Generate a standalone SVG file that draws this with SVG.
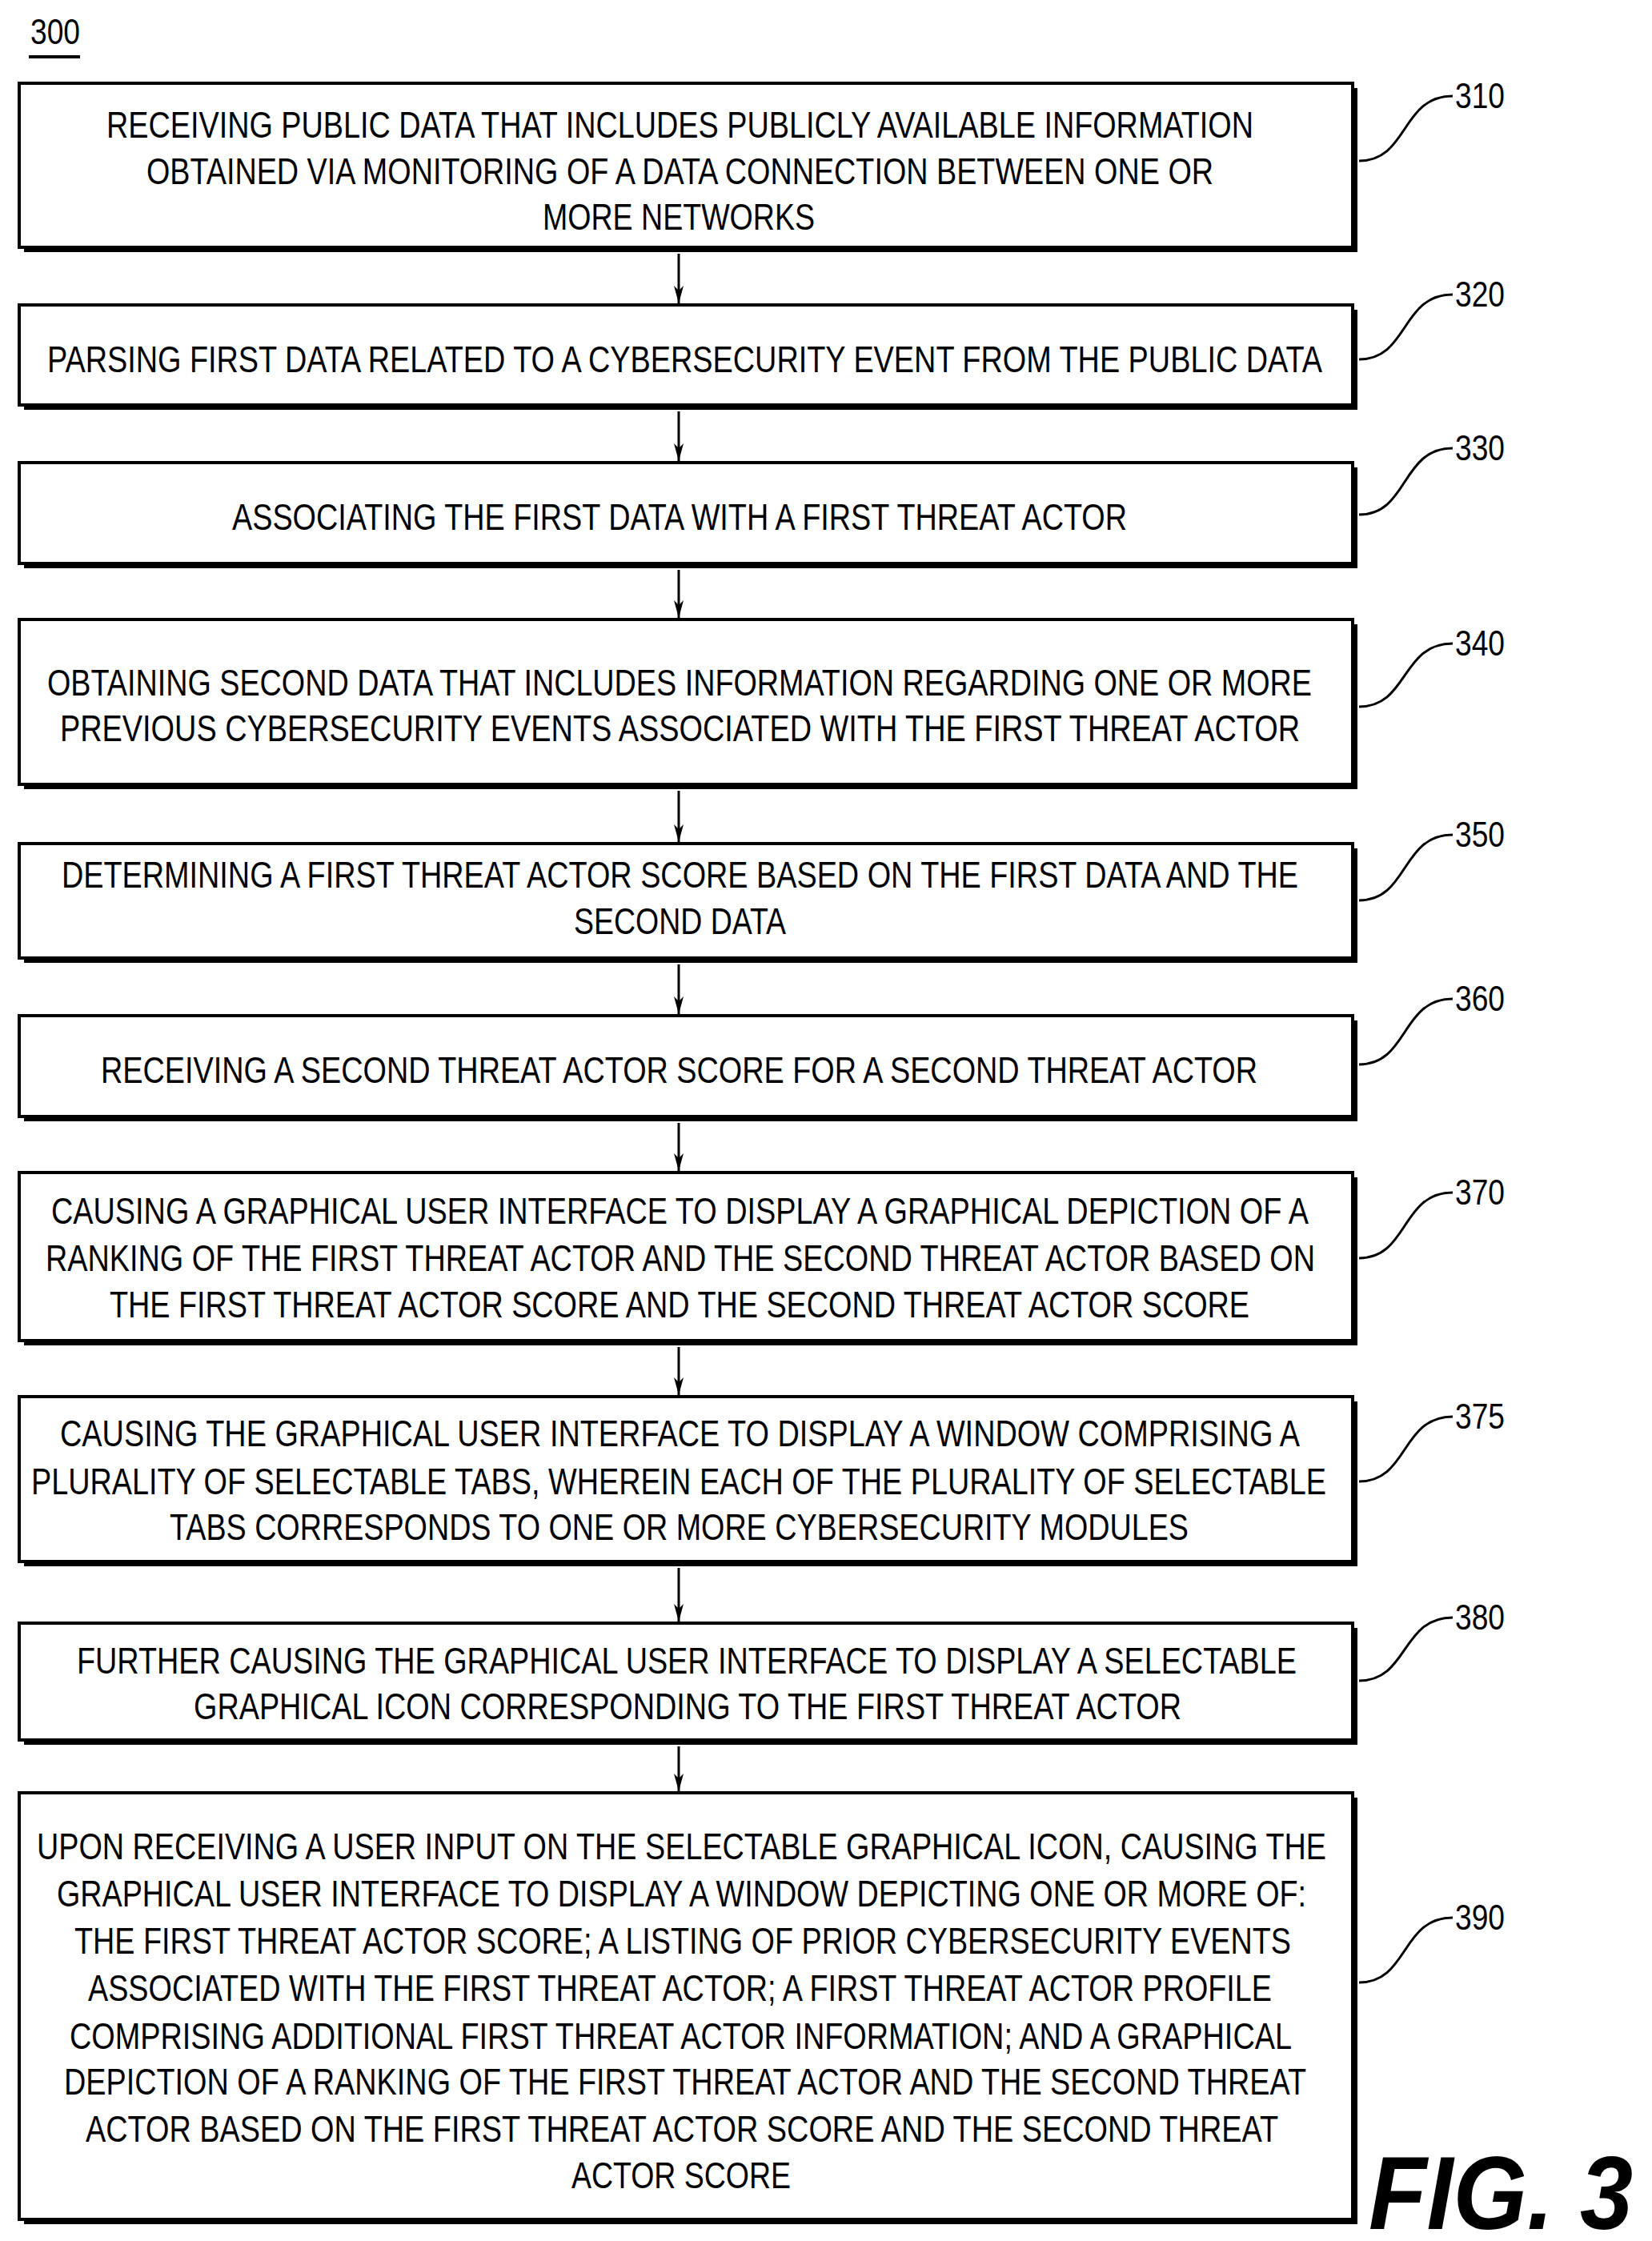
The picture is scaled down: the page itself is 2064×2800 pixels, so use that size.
<svg xmlns="http://www.w3.org/2000/svg" width="2064" height="2800" viewBox="0 0 2064 2800">
<style>
.b{fill:#fff;stroke:#000;stroke-width:4}
.s{fill:#000}
.t{font-family:"Liberation Sans",Arial,sans-serif;font-size:46px;fill:#000}
.l{font-family:"Liberation Sans",Arial,sans-serif;font-size:44px;fill:#000}
.c{fill:none;stroke:#000;stroke-width:3}
.a{stroke:#000;stroke-width:3;marker-end:url(#ah)}
</style>
<defs><marker id="ah" markerWidth="22" markerHeight="12" refX="22" refY="6" orient="auto" markerUnits="userSpaceOnUse" viewBox="0 0 22 12"><path d="M0,0 L22,6 L0,12 L6,6 Z" fill="#000"/></marker></defs>
<rect width="2064" height="2800" fill="#fff"/>
<g id="title"><text x="38" y="55" class="l" textLength="62" lengthAdjust="spacingAndGlyphs">300</text><line x1="36" y1="71" x2="100" y2="71" stroke="#000" stroke-width="4"/></g>
<g id="connectors">
<line class="a" x1="848" y1="317" x2="848" y2="379"/>
<line class="a" x1="848" y1="514" x2="848" y2="576"/>
<line class="a" x1="848" y1="712" x2="848" y2="772"/>
<line class="a" x1="848" y1="988" x2="848" y2="1052"/>
<line class="a" x1="848" y1="1205" x2="848" y2="1267"/>
<line class="a" x1="848" y1="1403" x2="848" y2="1463"/>
<line class="a" x1="848" y1="1683" x2="848" y2="1743"/>
<line class="a" x1="848" y1="1959" x2="848" y2="2026"/>
<line class="a" x1="848" y1="2182" x2="848" y2="2238"/>
<path class="c" d="M1698,201 C1760,201 1750,120 1815,120"/>
<path class="c" d="M1698,449 C1760,449 1750,368 1815,368"/>
<path class="c" d="M1698,643 C1760,643 1750,560 1815,560"/>
<path class="c" d="M1698,883 C1760,883 1750,804 1815,804"/>
<path class="c" d="M1698,1125 C1760,1125 1750,1043 1815,1043"/>
<path class="c" d="M1698,1330 C1760,1330 1750,1248 1815,1248"/>
<path class="c" d="M1698,1572 C1760,1572 1750,1490 1815,1490"/>
<path class="c" d="M1698,1851 C1760,1851 1750,1770 1815,1770"/>
<path class="c" d="M1698,2100 C1760,2100 1750,2021 1815,2021"/>
<path class="c" d="M1698,2477 C1760,2477 1750,2396 1815,2396"/>
</g>
<g id="n310"><rect class="s" x="30" y="110" width="1666" height="205"/><rect class="b" x="24" y="104" width="1666" height="205"/>
<text class="t" x="133" y="172" textLength="1433" lengthAdjust="spacingAndGlyphs">RECEIVING PUBLIC DATA THAT INCLUDES PUBLICLY AVAILABLE INFORMATION</text>
<text class="t" x="183" y="230" textLength="1333" lengthAdjust="spacingAndGlyphs">OBTAINED VIA MONITORING OF A DATA CONNECTION BETWEEN ONE OR</text>
<text class="t" x="678" y="287" textLength="340" lengthAdjust="spacingAndGlyphs">MORE NETWORKS</text>
<text class="l" x="1818" y="135" textLength="62" lengthAdjust="spacingAndGlyphs">310</text></g>
<g id="n320"><rect class="s" x="30" y="387" width="1666" height="125"/><rect class="b" x="24" y="381" width="1666" height="125"/>
<text class="t" x="59" y="465" textLength="1593" lengthAdjust="spacingAndGlyphs">PARSING FIRST DATA RELATED TO A CYBERSECURITY EVENT FROM THE PUBLIC DATA</text>
<text class="l" x="1818" y="383" textLength="62" lengthAdjust="spacingAndGlyphs">320</text></g>
<g id="n330"><rect class="s" x="30" y="584" width="1666" height="126"/><rect class="b" x="24" y="578" width="1666" height="126"/>
<text class="t" x="290" y="662" textLength="1118" lengthAdjust="spacingAndGlyphs">ASSOCIATING THE FIRST DATA WITH A FIRST THREAT ACTOR</text>
<text class="l" x="1818" y="575" textLength="62" lengthAdjust="spacingAndGlyphs">330</text></g>
<g id="n340"><rect class="s" x="30" y="780" width="1666" height="206"/><rect class="b" x="24" y="774" width="1666" height="206"/>
<text class="t" x="59" y="869" textLength="1580" lengthAdjust="spacingAndGlyphs">OBTAINING SECOND DATA THAT INCLUDES INFORMATION REGARDING ONE OR MORE</text>
<text class="t" x="75" y="926" textLength="1549" lengthAdjust="spacingAndGlyphs">PREVIOUS CYBERSECURITY EVENTS ASSOCIATED WITH THE FIRST THREAT ACTOR</text>
<text class="l" x="1818" y="819" textLength="62" lengthAdjust="spacingAndGlyphs">340</text></g>
<g id="n350"><rect class="s" x="30" y="1060" width="1666" height="143"/><rect class="b" x="24" y="1054" width="1666" height="143"/>
<text class="t" x="77" y="1109" textLength="1545" lengthAdjust="spacingAndGlyphs">DETERMINING A FIRST THREAT ACTOR SCORE BASED ON THE FIRST DATA AND THE</text>
<text class="t" x="717" y="1167" textLength="265" lengthAdjust="spacingAndGlyphs">SECOND DATA</text>
<text class="l" x="1818" y="1058" textLength="62" lengthAdjust="spacingAndGlyphs">350</text></g>
<g id="n360"><rect class="s" x="30" y="1275" width="1666" height="126"/><rect class="b" x="24" y="1269" width="1666" height="126"/>
<text class="t" x="126" y="1353" textLength="1445" lengthAdjust="spacingAndGlyphs">RECEIVING A SECOND THREAT ACTOR SCORE FOR A SECOND THREAT ACTOR</text>
<text class="l" x="1818" y="1263" textLength="62" lengthAdjust="spacingAndGlyphs">360</text></g>
<g id="n370"><rect class="s" x="30" y="1471" width="1666" height="210"/><rect class="b" x="24" y="1465" width="1666" height="210"/>
<text class="t" x="64" y="1529" textLength="1571" lengthAdjust="spacingAndGlyphs">CAUSING A GRAPHICAL USER INTERFACE TO DISPLAY A GRAPHICAL DEPICTION OF A</text>
<text class="t" x="57" y="1588" textLength="1586" lengthAdjust="spacingAndGlyphs">RANKING OF THE FIRST THREAT ACTOR AND THE SECOND THREAT ACTOR BASED ON</text>
<text class="t" x="137" y="1646" textLength="1424" lengthAdjust="spacingAndGlyphs">THE FIRST THREAT ACTOR SCORE AND THE SECOND THREAT ACTOR SCORE</text>
<text class="l" x="1818" y="1505" textLength="62" lengthAdjust="spacingAndGlyphs">370</text></g>
<g id="n375"><rect class="s" x="30" y="1751" width="1666" height="206"/><rect class="b" x="24" y="1745" width="1666" height="206"/>
<text class="t" x="75" y="1807" textLength="1549" lengthAdjust="spacingAndGlyphs">CAUSING THE GRAPHICAL USER INTERFACE TO DISPLAY A WINDOW COMPRISING A</text>
<text class="t" x="39" y="1867" textLength="1618" lengthAdjust="spacingAndGlyphs">PLURALITY OF SELECTABLE TABS, WHEREIN EACH OF THE PLURALITY OF SELECTABLE</text>
<text class="t" x="212" y="1924" textLength="1273" lengthAdjust="spacingAndGlyphs">TABS CORRESPONDS TO ONE OR MORE CYBERSECURITY MODULES</text>
<text class="l" x="1818" y="1785" textLength="62" lengthAdjust="spacingAndGlyphs">375</text></g>
<g id="n380"><rect class="s" x="30" y="2034" width="1666" height="146"/><rect class="b" x="24" y="2028" width="1666" height="146"/>
<text class="t" x="96" y="2091" textLength="1524" lengthAdjust="spacingAndGlyphs">FURTHER CAUSING THE GRAPHICAL USER INTERFACE TO DISPLAY A SELECTABLE</text>
<text class="t" x="242" y="2148" textLength="1234" lengthAdjust="spacingAndGlyphs">GRAPHICAL ICON CORRESPONDING TO THE FIRST THREAT ACTOR</text>
<text class="l" x="1818" y="2036" textLength="62" lengthAdjust="spacingAndGlyphs">380</text></g>
<g id="n390"><rect class="s" x="30" y="2246" width="1666" height="533"/><rect class="b" x="24" y="2240" width="1666" height="533"/>
<text class="t" x="46" y="2323" textLength="1611" lengthAdjust="spacingAndGlyphs">UPON RECEIVING A USER INPUT ON THE SELECTABLE GRAPHICAL ICON, CAUSING THE</text>
<text class="t" x="71" y="2382" textLength="1561" lengthAdjust="spacingAndGlyphs">GRAPHICAL USER INTERFACE TO DISPLAY A WINDOW DEPICTING ONE OR MORE OF:</text>
<text class="t" x="93" y="2441" textLength="1520" lengthAdjust="spacingAndGlyphs">THE FIRST THREAT ACTOR SCORE; A LISTING OF PRIOR CYBERSECURITY EVENTS</text>
<text class="t" x="110" y="2500" textLength="1479" lengthAdjust="spacingAndGlyphs">ASSOCIATED WITH THE FIRST THREAT ACTOR; A FIRST THREAT ACTOR PROFILE</text>
<text class="t" x="87" y="2560" textLength="1527" lengthAdjust="spacingAndGlyphs">COMPRISING ADDITIONAL FIRST THREAT ACTOR INFORMATION; AND A GRAPHICAL</text>
<text class="t" x="80" y="2617" textLength="1552" lengthAdjust="spacingAndGlyphs">DEPICTION OF A RANKING OF THE FIRST THREAT ACTOR AND THE SECOND THREAT</text>
<text class="t" x="107" y="2676" textLength="1490" lengthAdjust="spacingAndGlyphs">ACTOR BASED ON THE FIRST THREAT ACTOR SCORE AND THE SECOND THREAT</text>
<text class="t" x="714" y="2734" textLength="274" lengthAdjust="spacingAndGlyphs">ACTOR SCORE</text>
<text class="l" x="1818" y="2411" textLength="62" lengthAdjust="spacingAndGlyphs">390</text></g>
<g id="fig"><text x="1710" y="2785" font-family="Liberation Sans,Arial,sans-serif" font-size="130" font-weight="bold" font-style="italic" textLength="330" lengthAdjust="spacingAndGlyphs">FIG. 3</text></g>
</svg>
